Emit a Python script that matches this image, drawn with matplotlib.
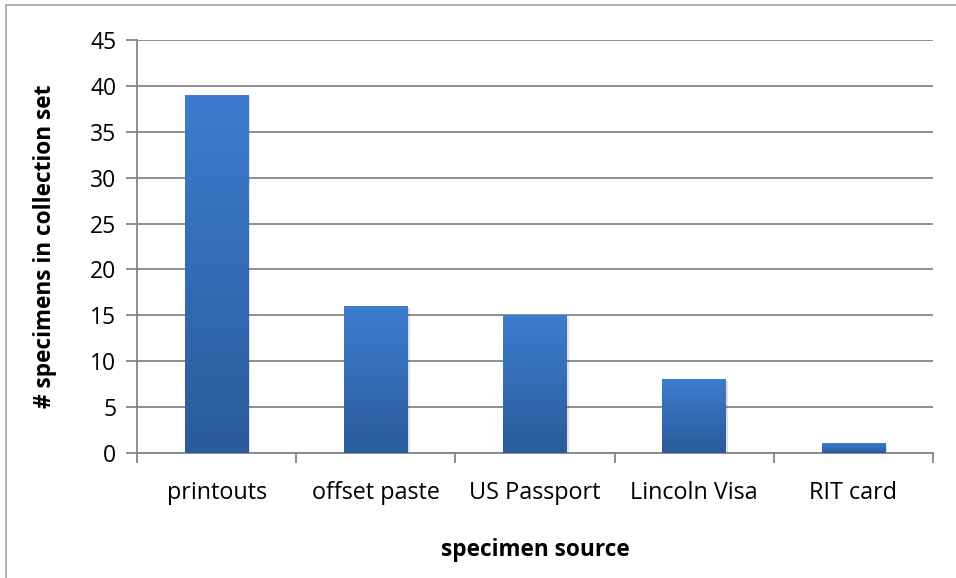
import matplotlib.pyplot as plt
import numpy as np
from matplotlib.colors import LinearSegmentedColormap
from matplotlib.patches import Rectangle

plt.rcParams['font.family'] = ['Open Sans', 'DejaVu Sans']

sources = ['printouts', 'offset paste', 'US Passport', 'Lincoln Visa', 'RIT card']
counts = [39, 16, 15, 8, 1]

fig = plt.figure(figsize=(9.56, 5.78), dpi=100)
ax = fig.add_axes([137 / 956, 1 - 453 / 578, 796 / 956, 413 / 578])

# outer chart frame
fig.patches.append(Rectangle((6 / 956, -0.1), 1.2, 1 - 5 / 578 + 0.1,
                             transform=fig.transFigure, fill=False,
                             edgecolor='#a6a6a6', linewidth=1.2))

# vertical blue gradient for the bars
cmap = LinearSegmentedColormap.from_list('bar', ['#2a5b9b', '#3d7ccf'])
grad = np.linspace(0, 1, 256).reshape(-1, 1)
width = 0.4
x = np.arange(len(sources))
for xi, v in zip(x, counts):
    # soft drop shadow
    ax.add_patch(Rectangle((xi - width / 2 + 0.012, -0.15), width, v,
                           facecolor='#000000', alpha=0.12, zorder=2,
                           edgecolor='none'))
    ax.imshow(grad, cmap=cmap, origin='lower', aspect='auto', zorder=3,
              extent=(xi - width / 2, xi + width / 2, 0, v))

ax.set_xlim(-0.5, len(sources) - 0.5)
ax.set_ylim(0, 45)
ax.set_yticks(np.arange(0, 46, 5))
ax.yaxis.grid(True, color='#868686', linewidth=1.3)
ax.set_axisbelow(True)

ax.set_xticks(x)
ax.set_xticklabels(sources)
ax.set_xticks(np.arange(-0.5, len(sources)), minor=True)
ax.tick_params(axis='x', which='major', length=0, pad=20, labelsize=16.8)
ax.tick_params(axis='x', which='minor', length=7, width=1.3, color='#868686')
ax.tick_params(axis='y', length=8, width=1.3, color='#868686', labelsize=16.5,
               pad=7)

for s in ['top', 'right']:
    ax.spines[s].set_visible(False)
for s in ['left', 'bottom']:
    ax.spines[s].set_color('#868686')
    ax.spines[s].set_linewidth(1.3)

ax.set_ylabel('# specimens in collection set', fontsize=16.3, fontweight='bold',
              labelpad=24)
ax.set_xlabel('specimen source', fontsize=16.3, fontweight='bold', labelpad=24)

fig.savefig('out.png', dpi=100)
